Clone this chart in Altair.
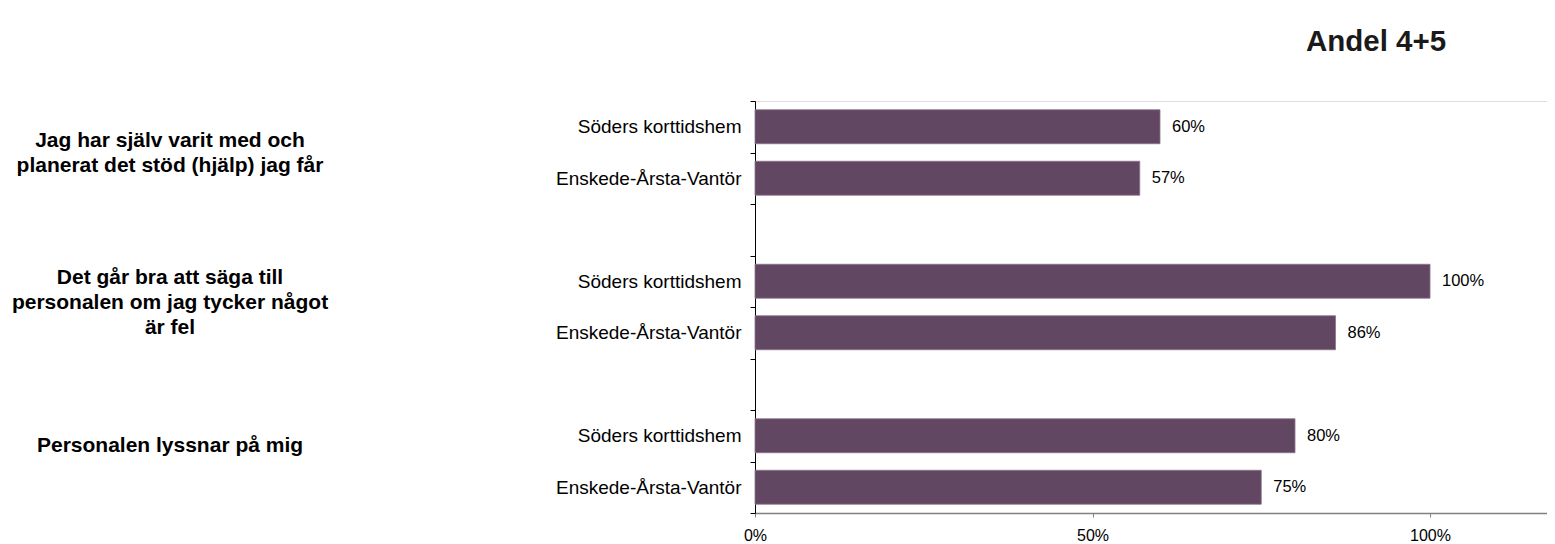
import altair as alt
import pandas as pd

# ---- data ----
questions = [
    ["Jag har själv varit med och", "planerat det stöd (hjälp) jag får"],
    ["Det går bra att säga till", "personalen om jag tycker något", "är fel"],
    ["Personalen lyssnar på mig"],
]
units = ["Söders korttidshem", "Enskede-Årsta-Vantör"]
soder = [0.60, 1.00, 0.80]
enskede = [0.57, 0.86, 0.75]
x_ticks = [0, 0.5, 1.0]
title_text = "Andel 4+5"

FONT = "Liberation Sans"
BAR = "#624763"

series = [soder, enskede]
rows_domain = []
records = []
qrecords = []
for qi in range(len(questions)):
    for ui, u in enumerate(units):
        rid = f"q{qi}u{ui}|{u}"
        rows_domain.append(rid)
        records.append({"row": rid, "value": series[ui][qi]})
        if ui == 0:
            qrecords.append({"row": rid, "lines": questions[qi], "q": qi})
    if qi < len(questions) - 1:
        rows_domain.append(f"gap{qi}|")

df = pd.DataFrame(records)
dfq = pd.DataFrame(qrecords)

yscale = alt.Scale(domain=rows_domain, paddingInner=0, paddingOuter=0)
xscale = alt.Scale(domain=[0, 1.1733], nice=False, zero=True)

yaxis = alt.Axis(
    title=None,
    labelExpr="split(datum.value, '|')[1]",
    tickBand="extent",
    tickSize=5,
    tickColor="black",
    domainColor="black",
    labelFontSize=19,
    labelFont=FONT,
    labelColor="black",
    labelPadding=9,
    labelLimit=400,
    grid=False,
)
xaxis = alt.Axis(
    title=None,
    values=x_ticks,
    format=".0%",
    tickSize=4,
    tickColor="#808080",
    domainColor="#808080",
    domainWidth=1.5,
    grid=False,
    labelFontSize=16,
    labelFont=FONT,
    labelColor="black",
    labelPadding=10,
    labelFlush=False,
)

base = alt.Chart(df)

bars = base.mark_bar(
    height={"band": 0.66}, color=BAR, stroke="#8a748c", strokeWidth=0.8
).encode(
    x=alt.X("value:Q", scale=xscale, axis=xaxis),
    y=alt.Y("row:N", scale=yscale, axis=yaxis, sort=rows_domain),
)

vals = base.mark_text(
    align="left", baseline="middle", dx=12, fontSize=16.5, font=FONT, color="black"
).encode(
    x=alt.X("value:Q", scale=xscale),
    y=alt.Y("row:N", scale=yscale, sort=rows_domain),
    text=alt.Text("value:Q", format=".0%"),
)

q_dy = [14, -3, 10]
qlayers = []
for qi in range(len(questions)):
    qlayers.append(
        alt.Chart(dfq)
        .transform_filter(alt.datum.q == qi)
        .mark_text(
            align="center",
            baseline="middle",
            fontSize=21,
            fontWeight="bold",
            font=FONT,
            lineHeight=25,
            color="black",
            dy=q_dy[qi],
        )
        .encode(
            x=alt.value(-585),
            y=alt.Y("row:N", scale=yscale, sort=rows_domain),
            text="lines",
        )
    )

title = (
    alt.Chart(pd.DataFrame({"t": [title_text]}))
    .mark_text(
        align="center",
        baseline="alphabetic",
        fontSize=29.5,
        fontWeight="bold",
        font=FONT,
        color="#1a1a1a",
    )
    .encode(x=alt.value(621), y=alt.value(-50), text="t")
)

chart = (
    alt.layer(bars, vals, *qlayers, title)
    .properties(
        width=792,
        height=412,
        autosize=alt.AutoSizeParams(type="none"),
        padding={"left": 747, "top": 93, "right": 0, "bottom": 31},
    )
    .configure_view(stroke="transparent", strokeOpacity=0)
    .configure(background="white")
)

chart.save("out.html", embed_options={"renderer": "svg", "actions": False})
